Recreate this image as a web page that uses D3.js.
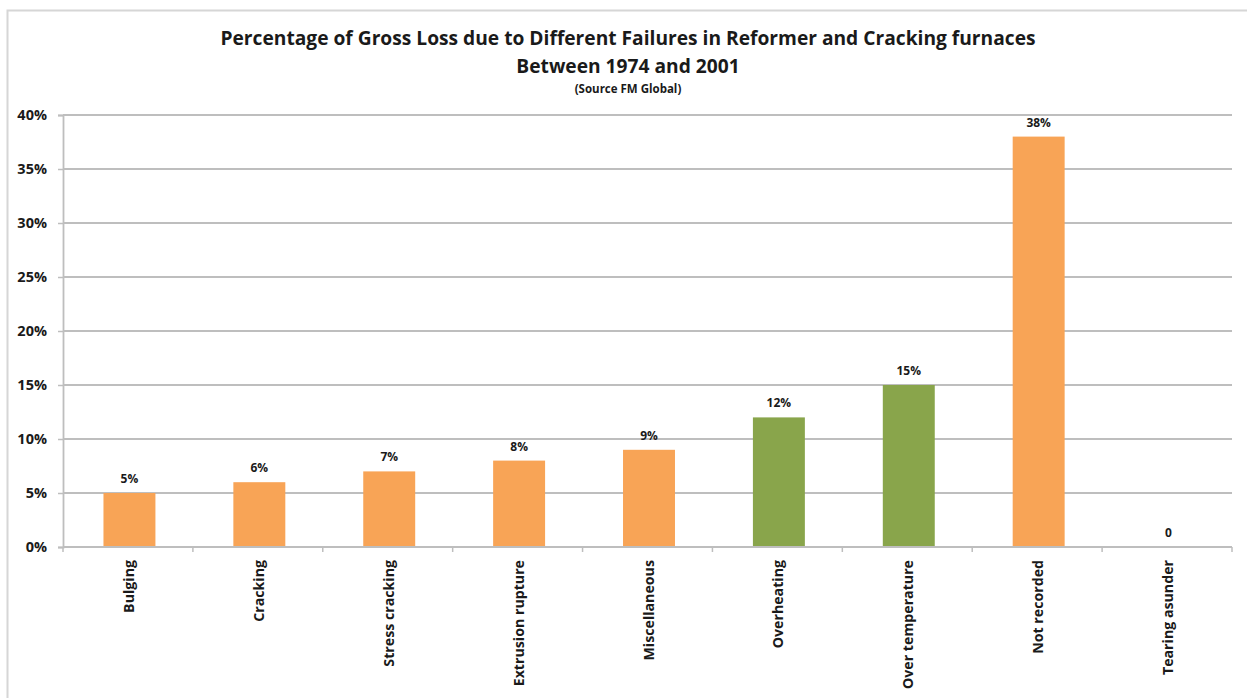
<!DOCTYPE html>
<html>
<head>
<meta charset="utf-8">
<script src="https://cdn.jsdelivr.net/npm/d3@7"></script>
<style>
  html, body { margin: 0; padding: 0; background: #fff; }
  svg { display: block; }
  text { font-family: "Open Sans", Lato, sans-serif; font-weight: bold; fill: #1a1a1a; }
</style>
</head>
<body>
<svg id="chart" width="1247" height="698"></svg>
<script>
// Failure categories and their share of gross loss (percent)
const categories = ["Bulging", "Cracking", "Stress cracking", "Extrusion rupture",
  "Miscellaneous", "Overheating", "Over temperature", "Not recorded", "Tearing asunder"];
const values = [5, 6, 7, 8, 9, 12, 15, 38, 0];
const valueLabels = ["5%", "6%", "7%", "8%", "9%", "12%", "15%", "38%", "0"];
// Temperature-related failures are highlighted in green
const highlighted = [false, false, false, false, false, true, true, false, false];
const yTicks = [0, 5, 10, 15, 20, 25, 30, 35, 40];
const titleLines = ["Percentage of Gross Loss due to Different Failures in Reformer and Cracking furnaces",
  "Between 1974 and 2001"];
const sourceNote = "(Source FM Global)";

const svg = d3.select("#chart");
const W = 1247, H = 698;
const margin = { left: 63, right: 15, top: 115, bottom: 151 };
const plotW = W - margin.left - margin.right;
const plotH = H - margin.top - margin.bottom;

const orange = "#F8A456";
const green = "#89A54B";
const gridColor = "#BEBEBE";

// outer frame
svg.append("rect")
  .attr("x", 7.5).attr("y", 10.5)
  .attr("width", W + 10).attr("height", H + 10)
  .attr("fill", "none").attr("stroke", "#d6d6d6").attr("stroke-width", 2);

const g = svg.append("g").attr("transform", `translate(${margin.left},${margin.top})`);

const x = d3.scaleBand().domain(categories).range([0, plotW]).paddingInner(0.6).paddingOuter(0.3);
const y = d3.scaleLinear().domain([0, 40]).range([plotH, 0]);

// horizontal gridlines
g.append("g").selectAll("line").data(yTicks.filter(t => t > 0)).join("line")
  .attr("x1", 0).attr("x2", plotW)
  .attr("y1", d => y(d)).attr("y2", d => y(d))
  .attr("stroke", gridColor).attr("stroke-width", 1.8);

// y axis
const yAxis = g.append("g")
  .call(d3.axisLeft(y).tickValues(yTicks).tickFormat(d => d + "%").tickSize(5).tickPadding(11));
yAxis.select(".domain").attr("stroke", gridColor).attr("stroke-width", 1.8);
yAxis.selectAll(".tick line").attr("stroke", gridColor).attr("stroke-width", 1.5);
yAxis.selectAll("text").attr("font-size", 14.5).attr("fill", "#1a1a1a")
  .style("font-family", '"Open Sans", Lato, sans-serif').style("font-weight", "bold");

// bars
g.append("g").selectAll("rect").data(values).join("rect")
  .attr("x", (d, i) => x(categories[i]) + 1.5)
  .attr("y", d => y(d))
  .attr("width", x.bandwidth())
  .attr("height", d => plotH - y(d))
  .attr("fill", (d, i) => highlighted[i] ? green : orange);

// value labels
g.append("g").selectAll("text").data(values).join("text")
  .attr("x", (d, i) => x(categories[i]) + x.bandwidth() / 2 + 1.5)
  .attr("y", d => y(d) - 10)
  .attr("text-anchor", "middle")
  .attr("font-size", 12)
  .text((d, i) => valueLabels[i]);

// x axis with category boundary ticks
const xAxisG = g.append("g").attr("transform", `translate(0,${plotH})`);
xAxisG.append("line").attr("x1", 0).attr("x2", plotW)
  .attr("stroke", gridColor).attr("stroke-width", 1.8);
const boundaries = d3.range(categories.length + 1).map(i => i * plotW / categories.length);
xAxisG.selectAll("line.tick").data(boundaries).join("line").attr("class", "tick")
  .attr("x1", d => d).attr("x2", d => d).attr("y1", 0).attr("y2", 5)
  .attr("stroke", gridColor).attr("stroke-width", 1.5);

// rotated category labels
xAxisG.selectAll("text").data(categories).join("text")
  .attr("transform", d => `translate(${x(d) + x.bandwidth() / 2 + 6},13) rotate(-90)`)
  .attr("text-anchor", "end")
  .attr("font-size", 14.2)
  .text(d => d);

// title block
svg.append("text").attr("x", 628).attr("y", 45).attr("text-anchor", "middle")
  .attr("font-size", 19.2).text(titleLines[0]);
svg.append("text").attr("x", 628).attr("y", 73).attr("text-anchor", "middle")
  .attr("font-size", 19.2).text(titleLines[1]);
svg.append("text").attr("x", 628).attr("y", 93).attr("text-anchor", "middle")
  .attr("font-size", 11.5).text(sourceNote);
</script>
</body>
</html>
